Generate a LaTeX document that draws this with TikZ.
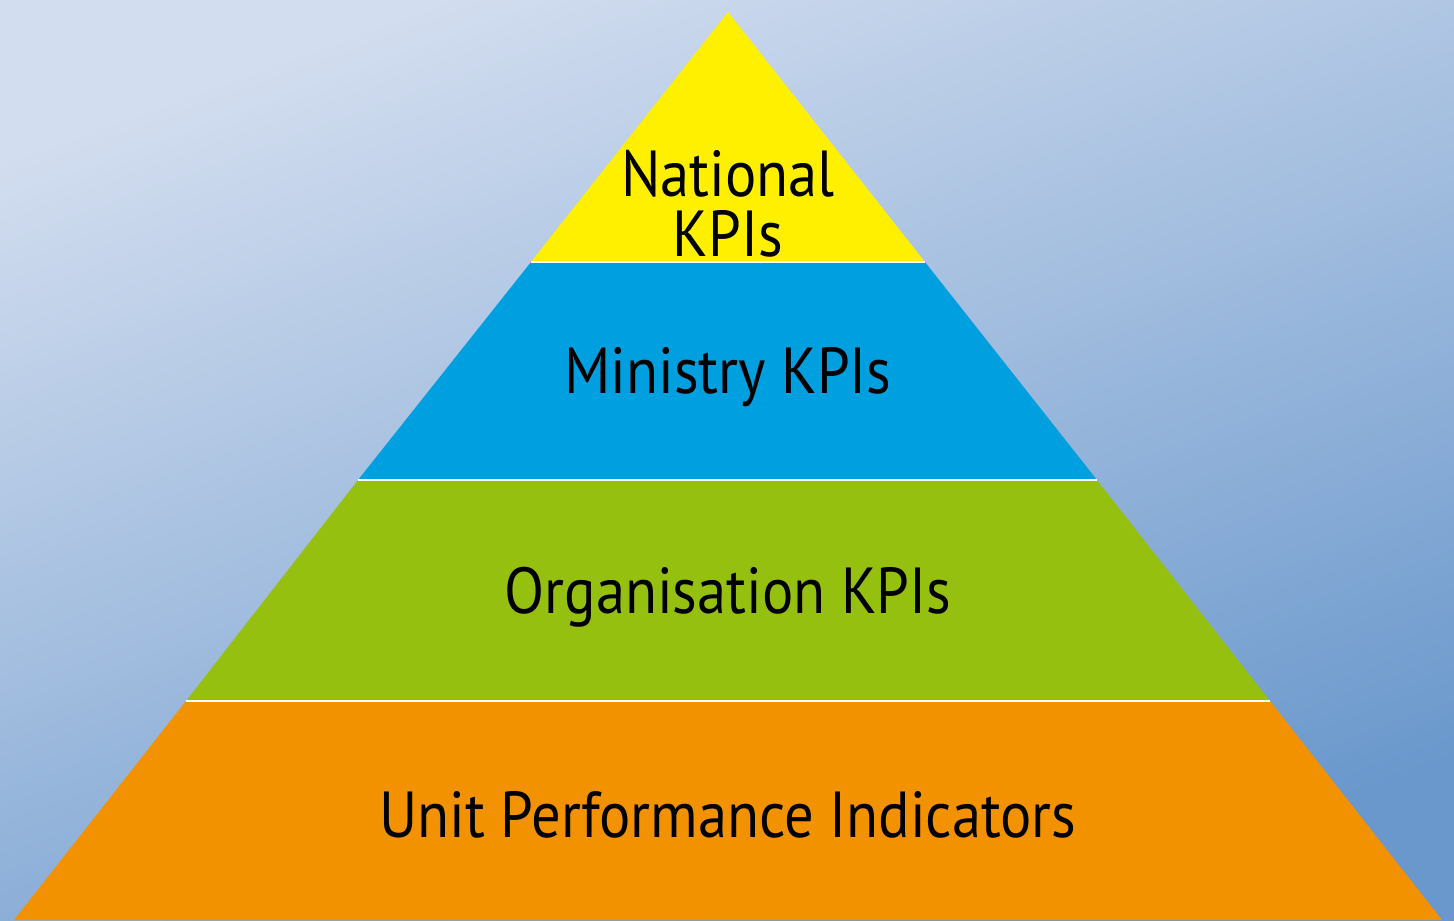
\documentclass[tikz,border=0pt]{standalone}
\usepackage{fontspec}
\setmainfont{PT Sans}[FakeStretch=0.9]
\definecolor{bgA}{HTML}{D2DDEF}
\definecolor{bgB}{HTML}{6A98CC}
\definecolor{cYel}{HTML}{FFF000}
\definecolor{cBlue}{HTML}{009FE0}
\definecolor{cGreen}{HTML}{96C00F}
\definecolor{cOrange}{HTML}{F39200}
\begin{document}
\begin{tikzpicture}[x=0.01cm,y=-0.01cm,
  layer/.style={draw=white, line width=0.6pt},
  lbl/.style={font=\fontsize{18.5}{17}\selectfont, text=black, align=center, inner sep=0pt}]
\useasboundingbox (0,0) rectangle (1454,920);
\shade[top color=bgA, bottom color=bgB, shading angle=20] (0,0) rectangle (1454,920);
% coordinates
\coordinate (apex) at (728,12);
\coordinate (l1) at (531,262); \coordinate (r1) at (925,262);
\coordinate (l2) at (358,480); \coordinate (r2) at (1097,480);
\coordinate (l3) at (186,701); \coordinate (r3) at (1270,701);
\coordinate (l4) at (14,920);  \coordinate (r4) at (1442,920);
\fill[cOrange] (l3) -- (r3) -- (r4) -- (l4) -- cycle;
\fill[cGreen] (l2) -- (r2) -- (r3) -- (l3) -- cycle;
\fill[cBlue] (l1) -- (r1) -- (r2) -- (l2) -- cycle;
\fill[cYel] (apex) -- (r1) -- (l1) -- cycle;
\draw[layer] (l1) -- (r1);
\draw[layer] (l2) -- (r2);
\draw[layer] (l3) -- (r3);
\node[lbl] (nat) at (728,204) {National\\KPIs};
\node[lbl] (min) at (728,377) {Ministry KPIs};
\node[lbl] (org) at (728,597) {Organisation KPIs};
\node[lbl] (unit) at (728,815) {Unit Performance Indicators};
\end{tikzpicture}
\end{document}
